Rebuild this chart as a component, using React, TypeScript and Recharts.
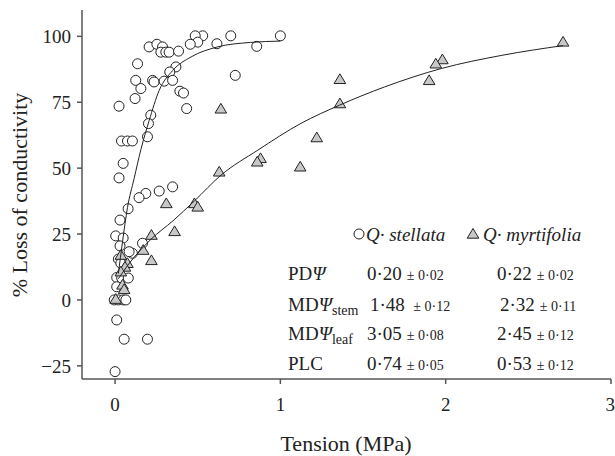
import React from 'react';
import { ComposedChart, Scatter, XAxis, YAxis } from 'recharts';

// Q. stellata observations [tension MPa, % loss]
const stellataPoints: [number, number][] = [
  [1.0, 100.2], [0.7, 100.2], [0.53, 100.2], [0.485, 100.2], [0.5, 97.8], [0.455, 97.0],
  [0.616, 97.2], [0.857, 96.2], [0.206, 96.0], [0.253, 97.0], [0.287, 96.0], [0.277, 94.0],
  [0.307, 94.0], [0.327, 94.0], [0.384, 94.4], [0.136, 89.6], [0.368, 88.4], [0.331, 86.5],
  [0.727, 85.2], [0.125, 83.3], [0.227, 83.3], [0.236, 82.7], [0.297, 83.0], [0.348, 83.3],
  [0.156, 80.2], [0.121, 76.4], [0.392, 79.2], [0.414, 78.5], [0.024, 73.5], [0.433, 72.6],
  [0.216, 70.1], [0.202, 66.9], [0.196, 61.9], [0.039, 60.3], [0.075, 60.3], [0.105, 60.3],
  [0.049, 51.8], [0.024, 46.3], [0.348, 42.9], [0.267, 41.3], [0.186, 40.4], [0.145, 38.8],
  [0.079, 34.6], [0.03, 30.3], [0.004, 24.3], [0.049, 23.5], [0.03, 20.5], [0.166, 21.5],
  [0.105, 17.7], [0.085, 18.3], [0.02, 15.5], [0.035, 13.9], [0.01, 8.5], [0.04, 8.3],
  [0.08, 8.3], [0.01, 5.0], [-0.005, 0], [0.02, 0], [0.05, 0], [0.065, 0],
  [0.01, -7.6], [0.055, -14.9], [0.196, -14.9], [0.0, -27.2],
];

// Q. myrtifolia observations
const myrtifoliaPoints: [number, number][] = [
  [2.71, 97.9], [1.98, 91.2], [1.94, 89.6], [1.9, 83.3], [1.36, 83.7], [1.36, 74.5],
  [0.64, 72.5], [1.22, 61.6], [0.88, 53.7], [0.86, 52.4], [1.12, 50.5], [0.63, 48.6],
  [0.31, 36.6], [0.48, 36.6], [0.5, 35.3], [0.36, 26.0], [0.22, 24.6], [0.17, 18.9],
  [0.22, 15.0], [0.035, 17.0], [0.075, 13.9], [0.06, 12.5], [0.035, 10.7], [0.045, 5.7],
  [0.055, 4.0], [0.004, 0.3],
];

// fitted curves
const stellataCurve: [number, number][] = [
  [0.02, 10], [0.045, 22], [0.075, 35], [0.115, 46], [0.156, 57], [0.206, 68],
  [0.267, 79.5], [0.348, 87], [0.46, 92.2], [0.62, 96], [0.82, 97.7], [1.0, 98.2],
];
const myrtifoliaCurve: [number, number][] = [
  [0.02, 8], [0.075, 13], [0.217, 23], [0.35, 30], [0.479, 37.5], [0.64, 47.3],
  [0.863, 56.8], [1.125, 67.0], [1.358, 73.9], [1.63, 80.8], [1.974, 87.8],
  [2.34, 92.8], [2.71, 96.5],
];

const xTicks = [0, 1, 2, 3];
const yTicks = [-25, 0, 25, 50, 75, 100];
const xDomain: [number, number] = [-0.2, 3];
const yDomain: [number, number] = [-30, 110];

const toXY = (arr: [number, number][]) => arr.map(([x, y]) => ({ x, y }));

const FONT = '"Liberation Serif", "Times New Roman", serif';
const AXIS = '#555';
const INK = '#222';

const CircleShape = (props: any) => {
  const { cx, cy } = props;
  if (cx == null || cy == null) return <g />;
  return <circle cx={cx} cy={cy} r={5} fill="#fff" stroke={INK} strokeWidth={1} />;
};
const TriShape = (props: any) => {
  const { cx, cy } = props;
  if (cx == null || cy == null) return <g />;
  return (
    <path
      d={`M${cx},${cy - 5.5} L${cx + 5.8},${cy + 4.2} L${cx - 5.8},${cy + 4.2} Z`}
      fill="#c8c8c8"
      stroke={INK}
      strokeWidth={1}
    />
  );
};
const NoShape = () => <g />;

const Cell = ({ x, y, main, pm }: { x: number; y: number; main: string; pm: string }) => (
  <text x={x} y={y} fontSize={19} fill={INK}>
    {main}
    <tspan fontSize={14} dx={5}>{pm}</tspan>
  </text>
);

const Overlay = () => (
  <svg
    width={615}
    height={456}
    style={{ position: 'absolute', left: 0, top: 0, pointerEvents: 'none' }}
    fontFamily={FONT}
  >
    {/* legend */}
    <circle cx={359} cy={234} r={5} fill="#fff" stroke={INK} />
    <text x={366} y={241} fontSize={19} fontStyle="italic" fill={INK}>Q· stellata</text>
    <path d="M473,228.5 L478.8,238.2 L467.2,238.2 Z" fill="#c8c8c8" stroke={INK} />
    <text x={483} y={241} fontSize={19} fontStyle="italic" fill={INK}>Q· myrtifolia</text>

    {/* table */}
    <text x={288} y={280} fontSize={19} fill={INK}>PD<tspan fontStyle="italic">Ψ</tspan></text>
    <text x={288} y={311} fontSize={19} fill={INK}>MD<tspan fontStyle="italic">Ψ</tspan><tspan fontSize={14} dy={4}>stem</tspan></text>
    <text x={288} y={340} fontSize={19} fill={INK}>MD<tspan fontStyle="italic">Ψ</tspan><tspan fontSize={14} dy={4}>leaf</tspan></text>
    <text x={288} y={370} fontSize={19} fill={INK}>PLC</text>

    <Cell x={367} y={280} main="0·20" pm="± 0·02" />
    <Cell x={370} y={311} main="1·48" pm=" ± 0·12" />
    <Cell x={367} y={340} main="3·05" pm="± 0·08" />
    <Cell x={367} y={370} main="0·74" pm="± 0·05" />

    <Cell x={497} y={280} main="0·22" pm="± 0·02" />
    <Cell x={500} y={311} main="2·32" pm="± 0·11" />
    <Cell x={497} y={340} main="2·45" pm="± 0·12" />
    <Cell x={497} y={370} main="0·53" pm="± 0·12" />

    {/* axis titles */}
    <text x={346} y={451} fontSize={22} textAnchor="middle" fill={INK}>Tension (MPa)</text>
    <text
      x={27}
      y={195}
      fontSize={22}
      textAnchor="middle"
      fill={INK}
      transform="rotate(-90 27 195)"
    >
      % Loss of conductivity
    </text>
  </svg>
);

export default function App() {
  const tickStyle = { fontSize: 19, fill: INK, fontFamily: FONT };
  return (
    <div style={{ position: 'absolute', left: 0, top: 0, width: 615, height: 456, background: '#fff' }}>
      <ComposedChart
        width={615}
        height={456}
        margin={{ top: 10, right: 4, bottom: 17, left: 0 }}
      >
        <XAxis
          type="number"
          dataKey="x"
          domain={xDomain}
          ticks={xTicks}
          allowDataOverflow
          height={60}
          tickSize={5}
          tickMargin={14}
          tick={tickStyle}
          stroke={AXIS}
          axisLine={{ stroke: AXIS, strokeWidth: 1.5 }}
          tickLine={{ stroke: AXIS, strokeWidth: 1.5 }}
        />
        <XAxis
          xAxisId="top"
          orientation="top"
          type="number"
          domain={xDomain}
          allowDataOverflow
          height={0}
          tick={false}
          tickLine={false}
          axisLine={{ stroke: AXIS, strokeWidth: 1.5 }}
        />
        <YAxis
          type="number"
          dataKey="y"
          domain={yDomain}
          ticks={yTicks}
          allowDataOverflow
          width={82}
          tickSize={5}
          tickMargin={6}
          tick={tickStyle}
          axisLine={{ stroke: AXIS, strokeWidth: 1.5 }}
          tickLine={{ stroke: AXIS, strokeWidth: 1.5 }}
          tickFormatter={(v: number) => (v < 0 ? `\u2212${Math.abs(v)}` : `${v}`)}
        />
        <YAxis
          yAxisId="right"
          orientation="right"
          type="number"
          domain={yDomain}
          allowDataOverflow
          width={0}
          tick={false}
          tickLine={false}
          axisLine={{ stroke: AXIS, strokeWidth: 1.5 }}
        />
        <Scatter data={toXY(stellataPoints)} shape={CircleShape} isAnimationActive={false} />
        <Scatter data={toXY(myrtifoliaPoints)} shape={TriShape} isAnimationActive={false} />
        <Scatter
          data={toXY(stellataCurve)}
          shape={NoShape}
          line={{ stroke: INK, strokeWidth: 1 }}
          lineJointType="monotoneX"
          isAnimationActive={false}
        />
        <Scatter
          data={toXY(myrtifoliaCurve)}
          shape={NoShape}
          line={{ stroke: INK, strokeWidth: 1 }}
          lineJointType="monotoneX"
          isAnimationActive={false}
        />
      </ComposedChart>
      <Overlay />
    </div>
  );
}
